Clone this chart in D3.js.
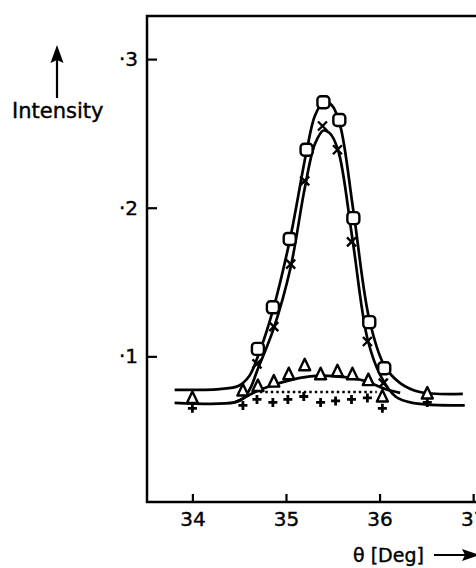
<!DOCTYPE html>
<html>
<head>
<meta charset="utf-8">
<script src="https://cdn.jsdelivr.net/npm/d3@7"></script>
<style>
  body { margin: 0; background: #fff; }
  svg { display: block; }
</style>
</head>
<body>
<script>
const width = 476;
const height = 568;

// measured points (theta in deg, intensity)
const squareTheta = [34.70, 34.86, 35.04, 35.22, 35.40, 35.57, 35.72, 35.89, 36.05];
const squareInt = [0.105, 0.133, 0.179, 0.239, 0.271, 0.259, 0.193, 0.123, 0.092];

const crossTheta = [34.69, 34.87, 35.05, 35.20, 35.39, 35.55, 35.70, 35.87, 36.04];
const crossInt = [0.095, 0.120, 0.162, 0.218, 0.255, 0.239, 0.177, 0.110, 0.082];

const triangleTheta = [34.0, 34.54, 34.70, 34.87, 35.03, 35.20, 35.37, 35.55, 35.71, 35.88, 36.03, 36.51];
const triangleInt = [0.072, 0.077, 0.080, 0.083, 0.088, 0.094, 0.088, 0.090, 0.088, 0.084, 0.073, 0.075];

const plusTheta = [34.0, 34.54, 34.69, 34.86, 35.02, 35.19, 35.37, 35.53, 35.70, 35.87, 36.03, 36.51];
const plusInt = [0.065, 0.067, 0.071, 0.069, 0.071, 0.073, 0.069, 0.070, 0.071, 0.072, 0.065, 0.069];

// fitted curves
const fitSquareTheta = [33.81, 34.29, 34.49, 34.61, 34.70, 34.86, 35.04, 35.22, 35.31, 35.40, 35.49, 35.58, 35.72, 35.89, 36.05, 36.22, 36.43, 36.89];
const fitSquareInt = [0.0774, 0.078, 0.080, 0.087, 0.100, 0.131, 0.178, 0.238, 0.262, 0.271, 0.269, 0.255, 0.198, 0.125, 0.094, 0.082, 0.076, 0.0747];

const fitCrossTheta = [33.81, 34.45, 34.55, 34.63, 34.69, 34.87, 35.05, 35.20, 35.31, 35.40, 35.47, 35.56, 35.71, 35.87, 36.01, 36.17, 36.35, 36.91];
const fitCrossInt = [0.0687, 0.069, 0.072, 0.080, 0.090, 0.119, 0.160, 0.213, 0.243, 0.252, 0.250, 0.238, 0.179, 0.112, 0.087, 0.073, 0.0687, 0.067];

const fitTriangleTheta = [34.45, 34.55, 34.67, 34.88, 35.15, 35.36, 35.63, 35.84, 36.06, 36.22];
const fitTriangleInt = [0.069, 0.072, 0.076, 0.081, 0.0855, 0.087, 0.086, 0.0835, 0.078, 0.0754];

const dottedTheta = [34.72, 35.97];
const dottedInt = [0.076, 0.076];

const xTicks = [34, 35, 36, 37];
const yTicks = [0.1, 0.2, 0.3];

const frameLeft = 147, frameRight = 490, frameTop = 16, frameBottom = 502;

const x = d3.scaleLinear().domain([33.515, 37.18]).range([frameLeft, frameRight]);
const y = d3.scaleLinear().domain([0.002, 0.329]).range([frameBottom, frameTop]);

const zip = (a, b) => a.map((v, i) => [v, b[i]]);

const line = d3
  .line()
  .x((d) => x(d[0]))
  .y((d) => y(d[1]))
  .curve(d3.curveCatmullRom.alpha(0.5));

const svg = d3
  .select("body")
  .append("svg")
  .attr("width", width)
  .attr("height", height)
  .attr("font-family", "DejaVu Sans")
  .attr("fill", "#000");

// frame (right side runs off the page)
svg
  .append("rect")
  .attr("x", frameLeft)
  .attr("y", frameTop)
  .attr("width", frameRight - frameLeft)
  .attr("height", frameBottom - frameTop)
  .attr("fill", "none")
  .attr("stroke", "#000")
  .attr("stroke-width", 2.5);

const styleText = (g) =>
  g
    .selectAll("text")
    .attr("font-size", 20)
    .attr("font-family", "DejaVu Sans")
    .attr("stroke", "#000")
    .attr("stroke-width", 0.4);

svg
  .append("g")
  .attr("transform", `translate(0,${frameBottom})`)
  .call(d3.axisBottom(x).tickValues(xTicks).tickSize(-8).tickPadding(10).tickFormat(d3.format("d")))
  .call((g) => g.select(".domain").remove())
  .call((g) => g.selectAll("line").attr("stroke-width", 2.2))
  .call(styleText);

svg
  .append("g")
  .attr("transform", `translate(${frameLeft},0)`)
  .call(d3.axisLeft(y).tickValues(yTicks).tickSize(-10).tickPadding(9).tickFormat((d) => "·" + Math.round(d * 10)))
  .call((g) => g.select(".domain").remove())
  .call((g) => g.selectAll("line").attr("stroke-width", 2.2))
  .call(styleText);

// curves
const curves = svg
  .append("g")
  .attr("fill", "none")
  .attr("stroke", "#000")
  .attr("stroke-width", 2.7)
  .attr("stroke-linejoin", "round");

curves.append("path").attr("d", line(zip(fitSquareTheta, fitSquareInt)));
curves.append("path").attr("d", line(zip(fitCrossTheta, fitCrossInt)));
curves.append("path").attr("d", line(zip(fitTriangleTheta, fitTriangleInt)));
curves
  .append("path")
  .attr("d", d3.line().x((d) => x(d[0])).y((d) => y(d[1]))(zip(dottedTheta, dottedInt)))
  .attr("stroke-width", 2.3)
  .attr("stroke-dasharray", "2.5,3");

// markers
const marks = svg
  .append("g")
  .attr("stroke", "#000")
  .attr("stroke-width", 2.4);

marks
  .selectAll(".plus")
  .data(zip(plusTheta, plusInt))
  .join("path")
  .attr("class", "plus")
  .attr("fill", "none")
  .attr("stroke-width", 2.8)
  .attr("d", (d) => {
    const cx = x(d[0]), cy = y(d[1]);
    return `M${cx - 4.5},${cy}H${cx + 4.5}M${cx},${cy - 4.5}V${cy + 4.5}`;
  });

marks
  .selectAll(".cross")
  .data(zip(crossTheta, crossInt))
  .join("path")
  .attr("class", "cross")
  .attr("fill", "none")
  .attr("stroke-width", 2.4)
  .attr("d", (d) => {
    const cx = x(d[0]), cy = y(d[1]);
    return `M${cx - 4.5},${cy - 4.5}L${cx + 4.5},${cy + 4.5}M${cx + 4.5},${cy - 4.5}L${cx - 4.5},${cy + 4.5}`;
  });

marks
  .selectAll(".tri")
  .data(zip(triangleTheta, triangleInt))
  .join("path")
  .attr("class", "tri")
  .attr("fill", "#fff")
  .attr("stroke-linejoin", "round")
  .attr("d", (d) => {
    const cx = x(d[0]), cy = y(d[1]);
    return `M${cx},${cy - 6.5}L${cx + 5.5},${cy + 5}H${cx - 5.5}Z`;
  });

marks
  .selectAll(".sq")
  .data(zip(squareTheta, squareInt))
  .join("rect")
  .attr("class", "sq")
  .attr("fill", "#fff")
  .attr("x", (d) => x(d[0]) - 6)
  .attr("y", (d) => y(d[1]) - 6)
  .attr("width", 12)
  .attr("height", 12)
  .attr("rx", 3.5);

// axis titles with arrows
svg
  .append("line")
  .attr("x1", 57).attr("y1", 98)
  .attr("x2", 57).attr("y2", 58)
  .attr("stroke", "#000")
  .attr("stroke-width", 2.2);
svg
  .append("path")
  .attr("d", "M57,45L63.5,63L57,60L50.5,63Z")
  .attr("fill", "#000");
svg
  .append("text")
  .attr("x", 12)
  .attr("y", 118)
  .attr("font-size", 21)
  .attr("stroke", "#000")
  .attr("stroke-width", 0.4)
  .text("Intensity");

svg
  .append("text")
  .attr("x", 353)
  .attr("y", 562)
  .attr("font-size", 19)
  .attr("stroke", "#000")
  .attr("stroke-width", 0.4)
  .text("θ [Deg]");
svg
  .append("line")
  .attr("x1", 434).attr("y1", 555)
  .attr("x2", 468).attr("y2", 555)
  .attr("stroke", "#000")
  .attr("stroke-width", 2.2);
svg
  .append("path")
  .attr("d", "M480,555L462,549L465,555L462,561Z")
  .attr("fill", "#000");
</script>
</body>
</html>
